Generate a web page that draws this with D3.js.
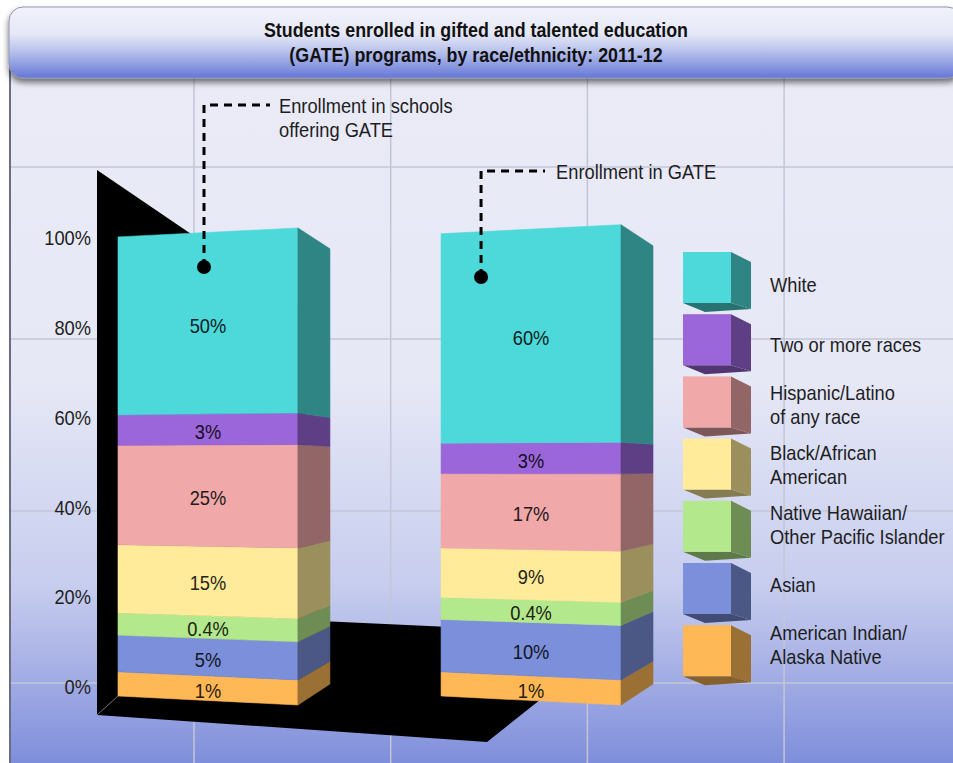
<!DOCTYPE html>
<html><head><meta charset="utf-8">
<script src="https://cdn.jsdelivr.net/npm/d3@7"></script>
<style>
body{margin:0;background:#fff;}
svg{display:block;font-family:"Liberation Sans",Arial,Helvetica,sans-serif;}
</style>
</head><body>
<svg id="chart" width="953" height="763"></svg>
<script>
// ---------------- DATA ----------------
const titleLines = ["Students enrolled in gifted and talented education",
                    "(GATE) programs, by race/ethnicity: 2011-12"];
const groups = ["Enrollment in schools offering GATE", "Enrollment in GATE"];
const groupCallouts = [["Enrollment in schools", "offering GATE"], ["Enrollment in GATE"]];
// stacked bottom -> top
const races = ["American Indian/Alaska Native", "Asian", "Native Hawaiian/Other Pacific Islander",
               "Black/African American", "Hispanic/Latino of any race", "Two or more races", "White"];
const legendLabels = [["American Indian/", "Alaska Native"], ["Asian"], ["Native Hawaiian/", "Other Pacific Islander"],
                      ["Black/African", "American"], ["Hispanic/Latino", "of any race"], ["Two or more races"], ["White"]];
const schoolsOfferingGATE = [1, 5, 0.4, 15, 25, 3, 50];
const enrolledInGATE      = [1, 10, 0.4, 9, 17, 3, 60];
const raceColors = ["#ffb855", "#7b8fdb", "#b3e88c", "#ffeb99", "#f0a8a8", "#9b66d9", "#4dd9d9"];
const yTicks = [0, 20, 40, 60, 80, 100];

const seriesByGroup = [schoolsOfferingGATE, enrolledInGATE];

// ---------------- SETUP ----------------
const W = 953, H = 763;
const svg = d3.select("#chart");
const defs = svg.append("defs");
const SX = 0.87; // horizontal condensing of text
const FS = 21;

function ctext(parent, x, y, str, o = {}) {
  return parent.append("text")
    .attr("transform", `translate(${x},${y}) scale(${o.sx || SX},1)`)
    .attr("text-anchor", o.anchor || "start")
    .attr("dy", "0.35em")
    .attr("font-size", o.size || FS)
    .attr("font-weight", o.weight || "normal")
    .attr("fill", o.fill || "#1e1e1e")
    .text(str);
}

// gradients
const bg = defs.append("linearGradient").attr("id", "bgGrad").attr("x1", 0).attr("y1", 0).attr("x2", 0).attr("y2", 1);
[[0, "#eaebf6"], [0.45, "#e6e8f6"], [0.72, "#c6ccee"], [1, "#6f80d6"]].forEach(([o, c]) =>
  bg.append("stop").attr("offset", o).attr("stop-color", c));
const tg = defs.append("linearGradient").attr("id", "titleGrad").attr("x1", 0).attr("y1", 0).attr("x2", 0).attr("y2", 1);
[[0, "#f1f2fb"], [0.38, "#e6e8f7"], [0.62, "#b9c2ec"], [1, "#6577d6"]].forEach(([o, c]) =>
  tg.append("stop").attr("offset", o).attr("stop-color", c));
const flt = defs.append("filter").attr("id", "shadow").attr("x", "-5%").attr("y", "-20%").attr("width", "110%").attr("height", "160%");
flt.append("feDropShadow").attr("dx", 0).attr("dy", 4).attr("stdDeviation", 3).attr("flood-color", "#000").attr("flood-opacity", 0.55);

// ---------------- PANEL & GRID ----------------
svg.append("rect").attr("x", 10).attr("y", 40).attr("width", W).attr("height", H).attr("fill", "url(#bgGrad)");
svg.append("line").attr("x1", 10).attr("x2", 10).attr("y1", 40).attr("y2", H).attr("stroke", "#6b6e80").attr("stroke-width", 2);

const gridG = svg.append("g").attr("stroke", "#c4c6d6").attr("stroke-width", 1.5);
d3.range(4).forEach(i => {
  const gx = 194 + i * 196.7;
  gridG.append("line").attr("x1", gx).attr("x2", gx).attr("y1", 78).attr("y2", H);
  const gy = 167 + i * 172;
  gridG.append("line").attr("x1", 11).attr("x2", W).attr("y1", gy).attr("y2", gy);
});

// ---------------- SCALES ----------------
const x = d3.scaleBand().domain(groups).range([118, 621]).paddingInner(0.443).paddingOuter(0);
const bw = x.bandwidth();
const depth = 32;
const yAxisScale = d3.scaleLinear().domain([0, 100]).range([687, 238]);
// stack heights: value portion + small fixed padding so thin segments stay legible
const hScale = d3.scaleLinear().domain([0, 100]).range([0, 314]);
const segPad = 21;
const baseY = 696, cy = 466;
const fFront = 1, fRight = 1.039, fBack = 0.948;
const proj = (y, f) => cy + (y - cy) * f;

// ---------------- BLACK WALL / FLOOR ----------------
const x0 = x(groups[0]), x1 = x(groups[1]);
const wallX = x0 - 21;
const floor = [
  [wallX, 170], [x0 + bw, 170 + 0.68 * (x0 + bw - wallX)], [x0 + bw + 22, 621],
  [x1 + 9, 627], [x1 + 119, 684], [x1 + 46, 742], [wallX, 715]
];
svg.append("path").attr("d", d3.line()(floor) + "Z").attr("fill", "#000");
svg.append("line").attr("x1", wallX).attr("y1", 715).attr("x2", x0).attr("y2", baseY)
  .attr("stroke", "#777").attr("stroke-width", 1);

// ---------------- BARS ----------------
const barsG = svg.append("g");
groups.forEach((g, gi) => {
  const vals = seriesByGroup[gi];
  const xL = x(g), xR = xL + bw, xB = xR + depth;
  let cur = baseY;
  const bg = barsG.append("g");
  vals.forEach((v, i) => {
    const y0 = cur, y1 = cur - (segPad + hScale(v));
    cur = y1;
    const col = raceColors[i];
    const side = d3.color(col).darker(1.4).formatHex();
    const front = [[xL, proj(y0, fFront)], [xR, proj(y0, fRight)], [xR, proj(y1, fRight)], [xL, proj(y1, fFront)]];
    const sidePts = [[xR, proj(y0, fRight)], [xB, proj(y0, fBack)], [xB, proj(y1, fBack)], [xR, proj(y1, fRight)]];
    bg.append("path").attr("d", d3.line()(front) + "Z").attr("fill", col).attr("stroke", col).attr("stroke-width", 0.6);
    bg.append("path").attr("d", d3.line()(sidePts) + "Z").attr("fill", side).attr("stroke", side).attr("stroke-width", 0.6);
    const fm = (fFront + fRight) / 2;
    ctext(bg, (xL + xR) / 2, proj((y0 + y1) / 2, fm) + 2, v + "%",
      { anchor: "middle", fill: d3.interpolateRgb(col, "#000")(0.85) });
  });
});

// ---------------- Y AXIS ----------------
const axisG = svg.append("g").attr("transform", "translate(91,0)")
  .call(d3.axisLeft(yAxisScale).tickValues(yTicks).tickFormat(d => d + "%").tickSize(0).tickPadding(0));
axisG.select(".domain").remove();
axisG.selectAll("text").attr("font-size", FS).attr("fill", "#1e1e1e")
  .attr("font-family", "Liberation Sans, Arial, sans-serif")
  .attr("transform", `scale(${SX},1)`);

// ---------------- CALLOUTS ----------------
const callouts = [
  { dot: [x0 + 86, 267], top: 105, end: x0 + 152, tx: x0 + 161 },
  { dot: [x1 + 40, 277], top: 171, end: x1 + 104, tx: x1 + 115 }
];
callouts.forEach((c, i) => {
  svg.append("path")
    .attr("d", `M${c.dot[0]},${c.dot[1]} L${c.dot[0]},${c.top} L${c.end},${c.top}`)
    .attr("fill", "none").attr("stroke", "#000").attr("stroke-width", 3).attr("stroke-dasharray", "8,6");
  svg.append("circle").attr("cx", c.dot[0]).attr("cy", c.dot[1]).attr("r", 7).attr("fill", "#000");
  groupCallouts[i].forEach((ln, j) => ctext(svg, c.tx, c.top + 1 + j * 24, ln));
});

// ---------------- LEGEND ----------------
const legG = svg.append("g");
const legX = 683, legW = 48, legD = 20, legH = 51;
const legOrder = d3.range(races.length).reverse();
legOrder.forEach((ri, k) => {
  const ty = 252 + k * 62.2;
  const col = raceColors[ri];
  const side = d3.color(col).darker(1.4).formatHex();
  const bottom = d3.color(col).darker(1.8).formatHex();
  legG.append("path").attr("d", d3.line()([[legX, ty + legH], [legX + legW, ty + legH], [legX + legW + legD, ty + legH + 6], [legX + 22, ty + legH + 9]]) + "Z")
    .attr("fill", bottom);
  legG.append("path").attr("d", d3.line()([[legX + legW, ty], [legX + legW + legD, ty + 10], [legX + legW + legD, ty + legH + 6], [legX + legW, ty + legH]]) + "Z")
    .attr("fill", side);
  legG.append("rect").attr("x", legX).attr("y", ty).attr("width", legW).attr("height", legH).attr("fill", col);
  const lines = legendLabels[ri];
  const mid = 284.5 + k * 60;
  lines.forEach((ln, j) => ctext(legG, 770, mid + (j - (lines.length - 1) / 2) * 24, ln));
});

// ---------------- TITLE BANNER ----------------
svg.append("rect").attr("x", 9).attr("y", 7).attr("width", 952).attr("height", 71).attr("rx", 14)
  .attr("fill", "url(#titleGrad)").attr("stroke", "#8f95b5").attr("stroke-width", 1).attr("filter", "url(#shadow)");
titleLines.forEach((t, i) => ctext(svg, 476, 30 + i * 25, t, { anchor: "middle", weight: "bold", size: 21, sx: 0.85, fill: "#111" }));
</script>
</body></html>
